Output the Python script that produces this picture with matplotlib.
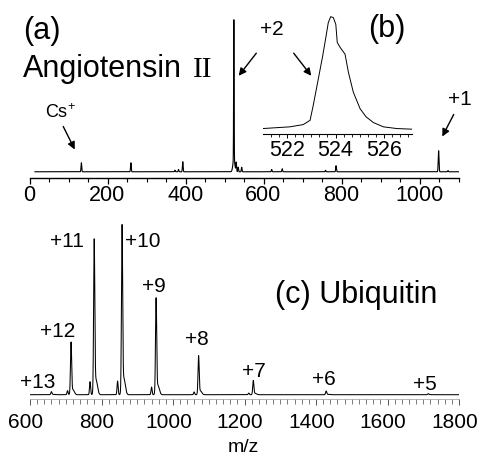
import numpy as np
import matplotlib
matplotlib.use("Agg")
import matplotlib.pyplot as plt
from matplotlib.ticker import MultipleLocator
from matplotlib.transforms import ScaledTranslation

plt.rcParams['font.family'] = ['Liberation Sans', 'DejaVu Sans']
plt.rcParams['mathtext.fontset'] = 'custom'
plt.rcParams['mathtext.rm'] = 'Liberation Sans'

# ---- data ----
# (a) Angiotensin II survey spectrum: peak m/z and relative intensity (+2 = 100)
ang_mz = [133, 260, 373, 382, 393, 524.0, 524.0, 530, 535, 544, 621, 648, 759, 786, 1049, 1073]
ang_int = [5.9, 5.9, 1.0, 1.5, 6.6, 92, 8, 6, 3, 3, 1.5, 2, 1, 4, 13.8, 0.8]
ang_wid = [0.9, 0.9, 0.9, 0.9, 0.9, 0.6, 2.5, 0.8, 0.9, 0.9, 0.9, 0.9, 0.9, 0.9, 1.0, 0.9]

# (b) zoom on the +2 peak: profile points
zoom_mz = [521.01, 522.12, 522.67, 522.95, 523.08, 523.29, 523.47, 523.61, 523.70,
           523.80, 523.91, 524.01, 524.07, 524.19, 524.39, 524.53, 524.73, 525.01,
           525.26, 525.56, 525.97, 526.52, 527.17]
zoom_int = [0.9, 2.4, 4.4, 8.2, 21.4, 44.9, 65.3, 82.9, 94.7, 100, 99.1, 93.2, 77.1,
            72.7, 66.8, 50.7, 33.2, 18.5, 11.2, 6.2, 2.4, 0.9, 0.3]

# (c) Ubiquitin charge-state series
ubq_charge = ['+13', '+12', '+11', '+10', '+9', '+8', '+7', '+6', '+5']
ubq_mz = [659.8, 714.8, 779.6, 857.5, 952.7, 1071.6, 1224.6, 1428.5, 1714.0]
ubq_int = [1.8, 31, 91.6, 100, 57, 23, 8.4, 2.2, 0.6]
ubq_side_mz = [705, 768, 845, 940, 1059, 1212]
ubq_side_int = [2.5, 8, 8.4, 4.7, 1.7, 1.0]

a_ticks = [0, 200, 400, 600, 800, 1000]
b_ticks = [522, 524, 526]
c_ticks = [600, 800, 1000, 1200, 1400, 1600, 1800]


def peaks(x, centers, heights, widths):
    y = np.zeros_like(x)
    for c, h, w in zip(centers, heights, widths):
        y += h * np.exp(-0.5 * ((x - c) / w) ** 2)
    return y


W, H = 480, 460
fig = plt.figure(figsize=(4.8, 4.6), dpi=100)


def rect(l, t, r, b):
    return [l / W, 1 - b / H, (r - l) / W, (b - t) / H]


def ftext(x, y, s, size, **kw):
    fig.text(x / W, 1 - y / H, s, fontsize=size, va='baseline', **kw)


def arrow(x0, y0, x1, y1):
    fig.add_artist(matplotlib.patches.FancyArrowPatch(
        (x0 / W, 1 - y0 / H), (x1 / W, 1 - y1 / H), transform=fig.transFigure,
        arrowstyle='-|>', mutation_scale=11, lw=1.0, color='black'))


# ---- panel (a) ----
axa = fig.add_axes(rect(29.5, 15, 458.5, 179))
xa = np.arange(14, 1100, 0.1)
ya = peaks(xa, ang_mz, ang_int, ang_wid)
axa.plot(xa, ya, color='black', lw=0.8)
axa.set_xlim(0, 1100)
axa.set_ylim(-4.1, 103.8)
for s in ['left', 'right', 'top']:
    axa.spines[s].set_visible(False)
axa.spines['bottom'].set_linewidth(1.0)
axa.set_yticks([])
axa.set_xticks(a_ticks)
axa.xaxis.set_minor_locator(MultipleLocator(50))
axa.tick_params(axis='x', which='major', length=4, width=0.9, pad=0, labelsize=15.5)
axa.tick_params(axis='x', which='minor', length=3, width=0.8)
axa.patch.set_alpha(0)

# ---- inset (b) ----
axb = fig.add_axes(rect(263, 12, 412, 134.5))
axb.plot(zoom_mz, zoom_int, color='black', lw=0.7)
axb.set_xlim(521.01, 527.15)
axb.set_ylim(-3.5, 105)
for s in ['left', 'right', 'top']:
    axb.spines[s].set_visible(False)
axb.spines['bottom'].set_linewidth(0.8)
axb.set_yticks([])
axb.set_xticks(b_ticks)
axb.xaxis.set_minor_locator(MultipleLocator(1 / 3))
axb.tick_params(axis='x', which='major', length=3, width=0.7, pad=1, labelsize=15.5)
axb.tick_params(axis='x', which='minor', length=2, width=0.6)
axb.patch.set_alpha(0)

# ---- panel (c) ----
axc = fig.add_axes(rect(30, 225, 459, 400))
xc = np.arange(600, 1800, 0.1)
wid = [1.6] * len(ubq_mz)
yc = peaks(xc, ubq_mz, ubq_int, wid)
yc += peaks(xc, [m + 5 for m in ubq_mz], [0.1 * v for v in ubq_int], [4.0] * len(ubq_mz))
yc += peaks(xc, ubq_side_mz, ubq_side_int, [1.5] * len(ubq_side_mz))
axc.plot(xc, yc, color='black', lw=0.75)
axc.set_xlim(600, 1800)
axc.set_ylim(-2.64, 104.9)
for s in ['left', 'right', 'top']:
    axc.spines[s].set_visible(False)
axc.spines['bottom'].set_linewidth(0.5)
axc.spines['bottom'].set_color('#999999')
axc.set_yticks([])
axc.set_xticks(c_ticks)
axc.xaxis.set_minor_locator(MultipleLocator(20))
axc.tick_params(axis='x', which='major', length=4.5, width=0.7, color='#555555', pad=5, labelsize=15)
axc.tick_params(axis='x', which='minor', length=3.5, width=0.6, color='#666666')
axc.patch.set_alpha(0)
shift = ScaledTranslation(-4.5 / 100, 0, fig.dpi_scale_trans)
for lab in axc.get_xticklabels():
    lab.set_transform(lab.get_transform() + shift)
fig.text(243 / W, 1 - 452 / H, 'm/z', fontsize=14, ha='center', va='baseline')

# ---- annotations ----
ftext(23, 39, '(a)', 22)
ftext(23, 77, 'Angiotensin', 22)
fig.text(193 / W, 1 - 77 / H, 'II', fontsize=21, va='baseline', family='Liberation Serif')
ftext(45, 118, 'Cs$^{+}$', 13)
ftext(260, 35, '+2', 15)
ftext(368, 37, '(b)', 22)
ftext(448, 105, '+1', 15)
arrow(62, 125, 76, 153)
arrow(258, 52, 237, 79)
arrow(292, 52, 313, 79)
arrow(455, 113, 441, 140)

ftext(275, 303, '(c) Ubiquitin', 22)
lab_pos = {'+13': (20, 388), '+12': (40, 337), '+11': (50, 247), '+10': (125, 247),
           '+9': (142, 292), '+8': (185, 345), '+7': (242, 377), '+6': (312, 385),
           '+5': (413, 390)}
for ch in ubq_charge:
    x, y = lab_pos[ch]
    ftext(x, y, ch, 15)

fig.savefig('out.png', dpi=100)
